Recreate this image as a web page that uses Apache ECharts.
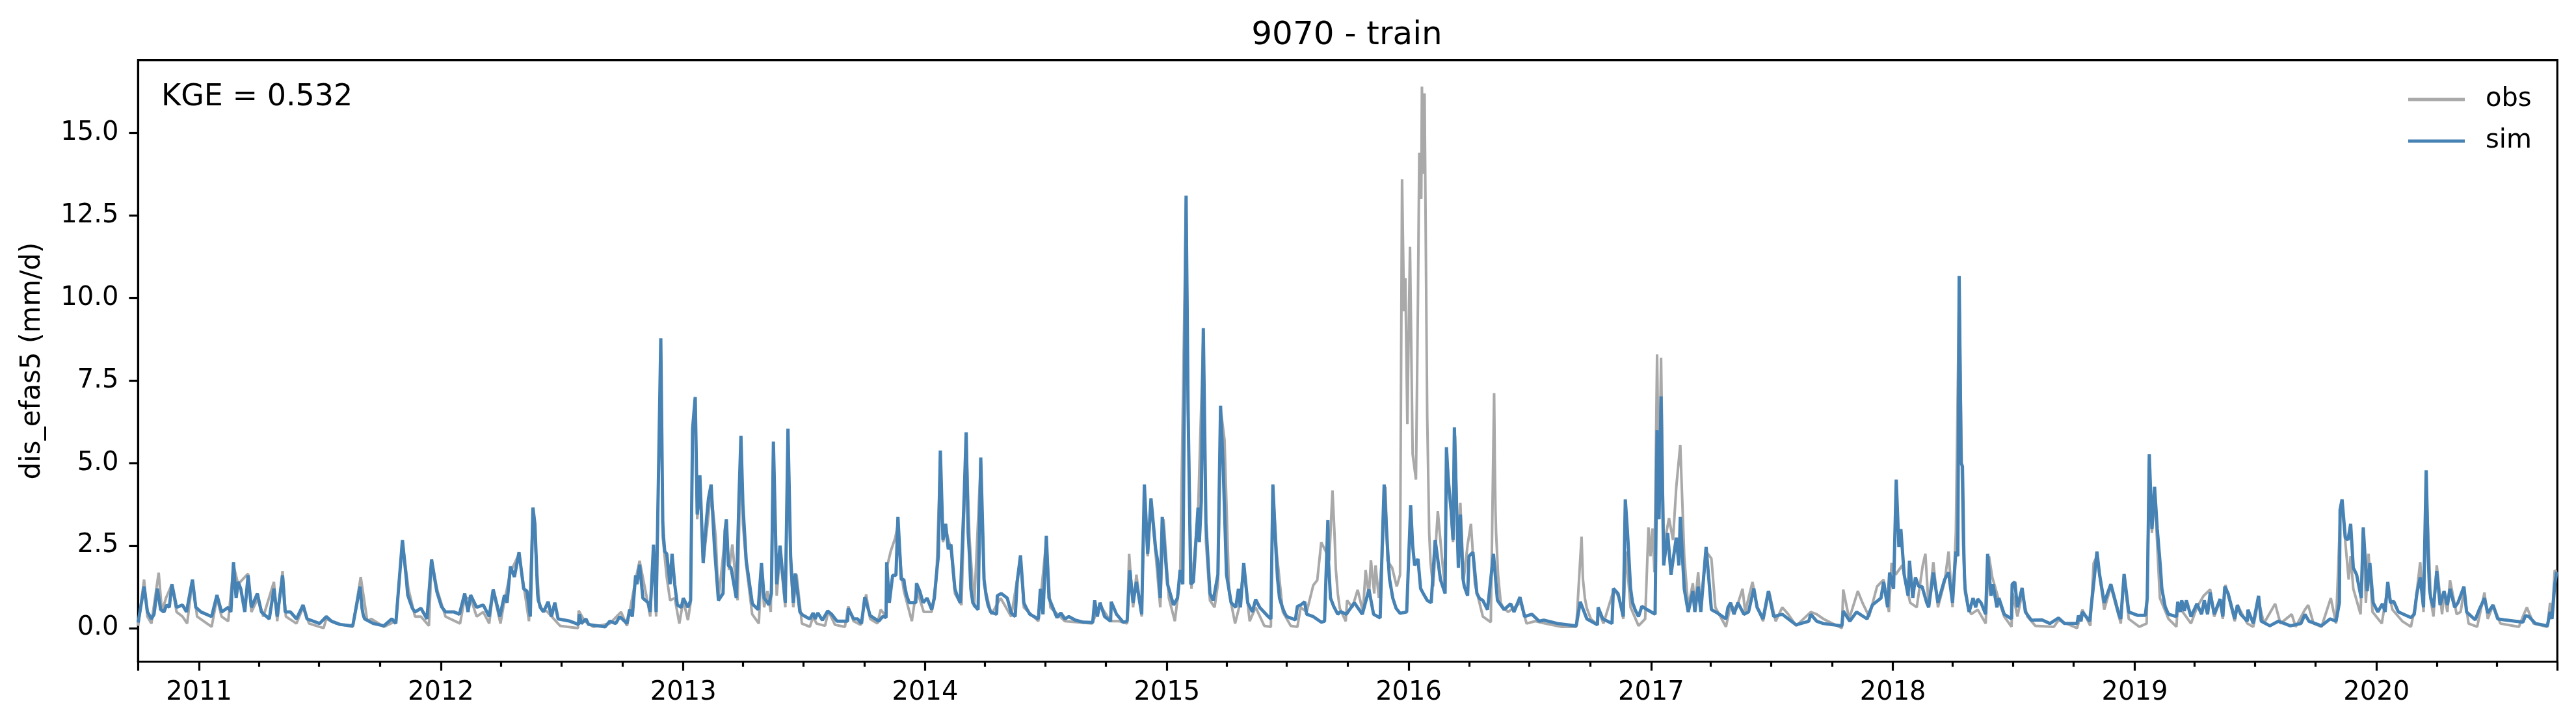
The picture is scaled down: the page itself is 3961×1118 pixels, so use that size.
<!DOCTYPE html>
<html><head><meta charset="utf-8">
<script src="https://cdn.jsdelivr.net/npm/echarts@6/dist/echarts.min.js"></script>
<style>html,body{margin:0;padding:0;background:#fff}#c{width:3961px;height:1118px}</style>
</head><body><div id="c"></div>
<script>
// [days since 2010-10-01, discharge mm/d]
const simA=[[0,.17],[9,1.26],[14,.5],[20,.28],[24,.42],[29,1.2],[34,.56],[39,.49],[43,.7],[47,.63],[51,1.33],[58,.63],[67,.7],[73,.49],[82,1.47],[87,.63],[95,.49],[111,.35],[119,1.0],[126,.49],[136,.63],[140,.49],[144,2.0],[148,.91],[151,1.4],[155,1.19],[161,.49],[166,1.6],[171,.63],[180,1.05],[186,.49],[198,.28],[205,1.2],[210,.35],[218,1.6],[222,.49],[230,.49],[239,.28],[249,.7],[255,.28],[274,.14],[284,.35],[292,.21],[305,.11],[324,.07],[335,1.26],[342,.28],[355,.14],[371,.07],[383,.28],[389,.14],[399,2.67],[405,1.47],[411,.77],[418,.49],[427,.6],[436,.28],[443,2.08],[449,1.33],[455,.84],[464,.49],[477,.49],[485,.42],[493,1.05],[498,.49],[502,1.0],[511,.63],[521,.7],[530,.35],[536,1.17],[546,.35],[553,1.0],[557,.77],[562,1.87],[568,1.55],[575,2.3],[582,1.19],[587,1.12],[592,.35],[596,3.65],[599,3.15],[603,1.05],[612,.49],[619,.8],[624,.35],[629,.77],[634,.28],[652,.21],[665,.11],[666,.42],[669,.14],[676,.28],[680,.11],[705,.04],[712,.21],[721,.14],[727,.35],[738,.14],[742,.56],[746,.35],[751,1.6],[753,1.33],[757,1.92],[762,.91],[770,.77]];
const simB=[[773,.49],[778,2.53],[782,.49],[789,8.78],[792,3.2],[795,2.32],[798,2.25],[803,1.33],[806,2.25],[810,1.33],[814,.7],[820,.63],[823,.91],[830,.63],[834,.84],[837,6.04],[841,7.0],[844,3.44],[848,4.63],[853,1.97],[858,3.3],[861,3.93],[865,4.35],[870,2.46],[876,.84],[883,1.05],[886,2.95],[888,3.3],[891,1.9],[895,1.83],[903,.91],[907,3.93],[910,5.83],[913,3.72],[918,2.04],[927,.77],[936,.56],[941,1.97],[945,.91],[952,.7],[956,1.05],[959,5.65],[964,1.33],[969,2.5],[977,.77],[981,6.04],[985,2.18],[989,.77],[992,1.66],[999,.49],[1014,.28],[1019,.46],[1022,.28],[1026,.46],[1033,.24],[1041,.52],[1047,.42],[1055,.21],[1071,.21],[1072,.6],[1080,.28],[1086,.28],[1092,.14],[1097,.94],[1105,.38],[1118,.21],[1124,.35],[1129,.32],[1130,2.0],[1134,.77],[1139,1.6],[1144,1.6],[1147,3.37],[1152,1.47],[1156,1.47],[1164,.77],[1174,.77],[1175,1.36],[1180,1.12],[1185,.77],[1191,.91],[1198,.56],[1202,.91],[1205,1.6],[1208,2.18],[1211,5.38],[1215,2.67],[1219,3.16],[1223,2.39],[1227,2.53],[1233,1.19],[1241,.77],[1247,4.0],[1250,5.93],[1253,2.88],[1260,.77],[1268,.56],[1272,5.17],[1277,1.47],[1287,.49],[1296,.42],[1297,.98],[1303,1.05],[1312,.91],[1318,.46],[1324,.35],[1327,1.4],[1332,2.2],[1337,.77],[1346,.42],[1359,.28],[1362,1.19],[1366,.42],[1371,2.8],[1375,.91],[1387,.32],[1393,.46],[1399,.28],[1405,.35],[1415,.24],[1427,.18],[1441,.17],[1444,.84],[1448,.35],[1452,.77],[1459,.35],[1468,.21],[1469,.8],[1477,.42],[1487,.18],[1493,.21],[1497,1.75],[1502,.77],[1507,1.4],[1515,.42],[1519,4.35],[1524,2.25],[1529,3.93],[1536,2.4],[1539,2.04],[1543,.91],[1546,3.37],[1554,1.33],[1563,.7],[1569,.91],[1573,1.76],[1577,1.33],[1582,13.1],[1585,6.67],[1589,1.33],[1593,1.4],[1600,3.65],[1602,2.6],[1605,3.86],[1608,9.09],[1612,3.16],[1618,1.05],[1623,.84],[1630,1.62],[1634,6.74],[1638,4.85],[1643,1.62],[1650,.77],[1657,.63],[1661,1.19],[1664,.63],[1669,1.97],[1675,.77],[1682,.49],[1687,.87],[1693,.63],[1706,.35],[1710,.28],[1713,4.35],[1717,2.6],[1723,.91],[1734,.35],[1747,.25],[1750,.66],[1755,.7]];
const simC=[[1761,.8],[1764,.42],[1774,.35],[1786,.18],[1791,.21],[1796,3.27],[1800,.91],[1811,.42],[1824,.42],[1836,.77],[1848,.42],[1858,1.17],[1865,.42],[1875,.31],[1878,2.46],[1881,4.35],[1886,2.46],[1894,.91],[1905,.45],[1915,.49],[1921,3.72],[1927,1.9],[1932,2.1],[1940,1.05],[1946,.84],[1952,.77],[1958,2.67],[1966,1.47],[1973,1.05],[1975,5.48],[1982,3.58],[1985,2.67],[1987,6.08],[1993,1.83],[1996,3.44],[2002,1.26],[2007,.98],[2009,2.18],[2015,2.3],[2021,1.05],[2030,.84],[2037,.56],[2046,2.25],[2052,.84],[2062,.56],[2072,.74],[2077,.49],[2086,.94],[2093,.35],[2104,.42],[2115,.21],[2122,.24],[2143,.14],[2171,.07],[2177,.8],[2187,.28],[2203,.1],[2204,.63],[2211,.28],[2225,.14],[2227,1.2],[2234,1.05],[2242,.35],[2245,3.9],[2250,2.32],[2256,.77],[2265,.35],[2270,.66],[2278,.56],[2290,.42],[2293,6.0],[2296,3.3],[2299,7.02],[2303,1.9],[2309,2.88],[2314,1.62],[2322,2.74],[2326,1.9],[2328,3.37],[2334,1.19],[2340,.49],[2347,1.12],[2350,.49],[2355,1.26],[2359,.49],[2367,2.46],[2375,.56],[2384,.46],[2397,.28],[2400,.63],[2404,.77],[2409,.42],[2415,.77],[2424,.42],[2431,.49],[2439,1.2],[2444,.63],[2453,.28],[2461,1.12],[2469,.35],[2482,.42],[2491,.28],[2503,.1],[2522,.21],[2525,.42],[2534,.21],[2544,.14],[2572,.07],[2574,.52],[2584,.21],[2594,.49],[2610,.28],[2618,.7],[2631,.91],[2635,1.4],[2641,.63],[2644,1.68],[2650,1.19],[2654,4.5],[2658,2.46],[2661,3.0],[2666,1.62],[2672,.98],[2674,2.04],[2679,.91],[2683,1.54],[2688,1.26],[2693,1.26],[2700,.77]];
const simD=[[2703,.63],[2710,1.68],[2717,.77],[2727,1.47],[2733,1.69],[2739,.77],[2744,2.32],[2747,2.18],[2749,10.67],[2752,5.0],[2754,4.9],[2758,1.19],[2764,.49],[2770,.91],[2774,.63],[2777,.88],[2782,.77],[2789,.42],[2792,2.25],[2797,.98],[2800,1.33],[2806,.63],[2809,.91],[2817,.42],[2828,.28],[2829,1.33],[2833,1.4],[2837,.63],[2844,1.22],[2849,.49],[2858,.24],[2874,.25],[2886,.14],[2899,.31],[2908,.14],[2927,.14],[2929,.38],[2933,.21],[2935,.49],[2946,.21],[2952,1.33],[2957,2.32],[2961,1.62],[2968,.77],[2978,1.33],[2990,.42],[2993,.28],[2998,1.64],[3005,.49],[3018,.39],[3030,.39],[3033,.91],[3036,5.27],[3040,3.0],[3044,4.28],[3048,3.02],[3055,1.19],[3065,.42],[3077,.35],[3079,.8],[3083,.49],[3085,.84],[3089,.52],[3092,.84],[3099,.35],[3108,.74],[3115,.42],[3119,.84],[3124,.42],[3128,1.08],[3134,.42],[3143,.88],[3147,.35],[3150,1.26],[3155,1.05],[3165,.28],[3169,.7],[3174,.42],[3184,.21],[3185,.56],[3193,.14],[3201,.98],[3205,.21],[3218,.07],[3231,.21],[3249,.07],[3265,.14],[3271,.42],[3277,.21],[3296,.07],[3309,.28],[3318,.21],[3323,.77],[3324,3.58],[3327,3.9],[3332,2.74],[3336,2.67],[3340,3.16],[3344,1.83],[3349,1.62],[3356,.91],[3359,3.05],[3365,1.12],[3369,1.97],[3374,.77],[3381,.49],[3388,.74],[3392,.49],[3396,1.4],[3400,.77],[3405,.81],[3412,.49],[3431,.32],[3436,.42],[3440,1.05],[3445,1.54],[3450,.63],[3454,4.78],[3459,1.19],[3465,.63],[3470,1.73],[3475,.7],[3481,1.12],[3486,.7],[3490,1.19],[3497,.63],[3502,.77],[3511,1.26],[3515,.49],[3528,.25],[3534,.56],[3539,.77],[3542,.91],[3547,.46],[3555,.7],[3562,.28],[3572,.25],[3600,.18],[3604,.38],[3609,.35],[3619,.14],[3637,.07],[3641,.49],[3644,.28],[3648,1.3],[3651,1.7]];
// points read along the recession limbs of the larger peaks
const simLimbs=[[146,1.4],[338,.6],[340,.38],[407,1.0],[414,.6],[451,1.1],[458,.65],[604,.85],[608,.6],[793,2.8],[846,3.9],[928,.72],[934,.6],[950,.78],[1003,.4],[1010,.32],[1157,1.3],[1160,1.0],[1237,.95],[1255,2.2],[1257,1.2],[1264,.65],[1280,1.0],[1283,.7],[1336,1.1],[1341,.6],[1720,1.5],[1727,.65],[1731,.45],[1797,2.0],[1805,.65],[1815,.5],[1889,1.5],[1899,.6],[1924,2.5],[1936,1.2],[1978,4.4],[2000,1.5],[2025,.9],[2248,3.0],[2253,1.2],[2260,.55],[2756,2.4],[2757,1.6],[2762,.7],[3053,1.8],[3060,.65],[3330,3.2],[3457,2.2],[3461,.9]];
const obsA=[[0,.07],[9,1.47],[14,.35],[20,.14],[31,1.68],[36,.49],[42,.91],[51,1.33],[58,.49],[67,.35],[74,.14],[82,1.45],[89,.35],[111,.04],[119,.91],[126,.35],[136,.21],[144,1.9],[151,1.33],[166,1.65],[171,.49],[181,.91],[189,.35],[205,1.4],[210,.21],[218,1.73],[223,.35],[239,.14],[249,.63],[258,.14],[280,0],[284,.28],[299,.14],[324,.04],[336,1.55],[346,.21],[352,.28],[371,.04],[389,.21],[391,.7],[399,2.6],[408,1.19],[418,.35],[427,.35],[439,.07],[443,2.04],[452,1.12],[464,.35],[486,.14],[493,.91],[502,.91],[511,.35],[521,.49],[530,.14],[536,1.12],[547,.14],[553,.84],[562,1.69],[575,2.25],[590,.21],[596,3.51],[606,.63],[618,.49],[637,.07],[664,0],[665,.53],[674,.21],[687,.04],[712,.14],[729,.49],[738,.07],[751,1.47],[757,2.04],[768,.91]];
const obsB=[[773,.35],[778,2.46],[782,.35],[789,8.5],[792,2.74],[798,1.54],[803,.84],[810,.91],[817,.14],[823,.84],[830,.24],[834,.77],[837,5.9],[841,6.8],[844,3.3],[848,4.4],[853,1.97],[858,2.88],[865,4.14],[872,2.74],[876,.84],[888,3.16],[892,1.76],[897,2.53],[905,.84],[910,5.7],[913,3.16],[918,1.9],[927,.42],[937,.14],[941,1.76],[945,.63],[950,1.12],[955,.49],[959,5.55],[964,.98],[969,2.25],[977,.63],[981,6.0],[985,1.9],[989,.63],[994,1.62],[1002,.14],[1014,.04],[1019,.35],[1024,.14],[1037,.07],[1042,.52],[1052,.1],[1067,.04],[1072,.66],[1080,.21],[1091,.1],[1099,1.02],[1105,.28],[1116,.14],[1121,.56],[1129,.35],[1131,1.9],[1136,2.32],[1143,2.74],[1147,3.16],[1152,1.69],[1156,1.12],[1168,.21],[1175,1.19],[1186,.49],[1198,.49],[1205,1.47],[1211,5.2],[1215,2.6],[1219,3.02],[1227,2.39],[1233,1.05],[1243,.7],[1250,5.75],[1255,2.74],[1262,.63],[1272,5.05],[1277,1.33],[1288,.42],[1302,.91],[1318,.35],[1332,2.11],[1337,.63],[1359,.21],[1371,2.67],[1377,.63],[1399,.21],[1440,.14],[1452,.7],[1468,.21],[1481,.21],[1493,.14],[1496,2.25],[1502,.63],[1507,1.62],[1515,.35],[1519,4.14],[1524,2.18],[1529,3.79],[1536,2.25],[1543,.63],[1548,3.3],[1556,.91],[1565,.21],[1573,1.54],[1582,13.0],[1585,6.5],[1590,1.19],[1600,3.44],[1608,8.9],[1612,2.6],[1618,.84],[1625,.63],[1630,1.33],[1635,6.5],[1640,5.7],[1647,1.05],[1656,.14],[1662,.63],[1669,1.83],[1678,.21],[1687,.63],[1700,.07],[1710,.04],[1713,4.2],[1719,2.25],[1728,.49],[1740,.07],[1750,.04],[1755,.63]];
const obsC=[[1764,.49],[1774,1.3],[1780,1.45],[1786,2.6],[1793,2.32],[1798,2.04],[1803,4.17],[1806,2.88],[1811,1.05],[1823,.21],[1825,.84],[1833,.63],[1841,1.16],[1849,.49],[1853,1.76],[1858,.98],[1861,2.06],[1866,1.05],[1868,1.9],[1873,.91],[1878,2.18],[1883,4.28],[1886,2.04],[1893,1.83],[1900,1.26],[1905,1.62],[1908,13.6],[1911,9.6],[1913,10.6],[1916,6.18],[1917,7.6],[1920,11.55],[1924,5.27],[1929,4.5],[1932,9.9],[1934,14.4],[1937,13.0],[1938,16.4],[1940,13.76],[1942,16.2],[1946,6.4],[1949,2.88],[1955,1.26],[1962,3.54],[1968,2.18],[1973,1.19],[1975,5.27],[1980,4.14],[1985,2.6],[1988,5.83],[1993,1.9],[1996,3.8],[2001,1.47],[2007,2.53],[2012,3.16],[2018,1.33],[2030,.35],[2042,.18],[2047,7.12],[2050,2.88],[2057,.77],[2068,.49],[2087,.77],[2096,.14],[2109,.21],[2124,.14],[2149,.04],[2171,.04],[2179,2.77],[2184,.91],[2193,.28],[2203,.1],[2204,.56],[2212,.14],[2228,1.19],[2236,.91],[2242,.28],[2246,2.32],[2253,.63],[2265,.07],[2275,.28],[2280,3.05],[2283,2.18],[2286,3.02],[2289,1.69],[2293,8.29],[2296,3.58],[2299,8.19],[2303,2.46],[2311,3.33],[2317,2.67],[2322,4.28],[2328,5.55],[2334,2.18],[2340,.63],[2347,1.36],[2350,.63],[2355,1.69],[2359,.63],[2367,2.32],[2375,2.11],[2381,.63],[2397,.04],[2404,.7],[2412,.56],[2422,1.19],[2426,.49],[2437,1.4],[2444,.63],[2453,.21],[2462,1.12],[2472,.21],[2482,.63],[2491,.42],[2503,.07],[2525,.49],[2534,.42],[2544,.28],[2572,0],[2574,1.17],[2583,.28],[2596,1.12],[2603,.77],[2613,.35],[2625,1.26],[2635,1.47],[2643,.49],[2647,1.97],[2653,1.62],[2663,1.9],[2675,.77],[2685,.63],[2694,1.9],[2698,2.25]];
const obsD=[[2703,.63],[2710,2.0],[2717,.63],[2727,1.4],[2733,2.32],[2739,.63],[2744,2.88],[2749,10.45],[2753,4.85],[2758,1.05],[2767,.42],[2777,.56],[2789,.14],[2794,2.18],[2799,1.54],[2810,.77],[2817,.35],[2828,.04],[2830,1.05],[2837,.35],[2844,1.05],[2852,.35],[2864,.07],[2892,.04],[2899,.24],[2927,0],[2935,.56],[2947,.07],[2952,1.97],[2957,2.18],[2968,.56],[2978,1.26],[2993,.14],[2998,1.62],[3005,.28],[3021,.04],[3032,.14],[3036,5.13],[3040,2.88],[3044,4.14],[3052,.91],[3065,.28],[3077,.04],[3079,.7],[3099,.14],[3108,.63],[3118,.98],[3128,1.17],[3134,.35],[3143,.84],[3147,.28],[3151,1.31],[3165,.21],[3169,.7],[3184,.14],[3193,.04],[3201,.84],[3209,.14],[3226,.74],[3234,.14],[3251,.42],[3257,.04],[3271,.56],[3276,.7],[3284,.14],[3296,.04],[3310,.91],[3318,.14],[3324,3.3],[3327,3.72],[3337,1.47],[3340,2.18],[3344,1.19],[3355,.42],[3359,2.95],[3363,.77],[3367,2.25],[3373,.49],[3387,.14],[3396,1.26],[3403,.56],[3418,.21],[3431,.04],[3437,.63],[3445,2.0],[3450,.49],[3454,4.43],[3461,.84],[3465,.35],[3470,1.9],[3478,.42],[3481,1.05],[3486,.49],[3490,1.45],[3500,.42],[3506,.49],[3511,1.12],[3518,.14],[3531,.04],[3542,1.08],[3547,.28],[3555,.7],[3566,.14],[3594,.04],[3600,.35],[3606,.63],[3616,.14],[3637,.04],[3641,.77],[3644,.28],[3648,1.75],[3651,1.7]];
const obsLimbs=[[1808,1.8],[1814,.6],[1951,2.0],[1953,1.6],[2048,5.0],[2049,3.6],[2053,1.6],[2060,.65],[2181,1.5],[2187,.6],[2755,2.5],[2762,.7]];
const yearLabels=[2011,2012,2013,2014,2015,2016,2017,2018,2019,2020];
const yTicks=[0,2.5,5,7.5,10,12.5,15];

const DAY=86400000, START=Date.UTC(2010,9,1);
const toDay=(y,m)=>Math.round((Date.UTC(y,m,1)-START)/DAY);
const END_DAY=3652;
const byDay=(a,b)=>a[0]-b[0];
const simData=[].concat(simA,simB,simC,simD,simLimbs).sort(byDay);
const obsData=[].concat(obsA,obsB,obsC,obsD,obsLimbs).sort(byDay);
const yearTicks=yearLabels.map(y=>toDay(y,0));
const quarterTicks=[];
for(let y=2010;y<=2020;y++)for(const m of [3,6,9]){const d=toDay(y,m);if(d>0&&d<END_DAY)quarterTicks.push(d);}
const yearOfDay=d=>new Date(START+d*DAY).getUTCFullYear();
const black='#000';
const chart=echarts.init(document.getElementById('c'),null,{renderer:'canvas',width:3961,height:1118});
const fontFamily='"DejaVu Sans"';
chart.setOption({
  animation:false,
  textStyle:{fontFamily},
  title:[
    {text:'9070 - train',left:2066,top:25,textAlign:'center',textStyle:{fontSize:50,fontWeight:'normal',color:black,fontFamily}},
    {text:'KGE = 0.532',left:243,top:122,textStyle:{fontSize:46,fontWeight:'normal',color:black,fontFamily}}
  ],
  legend:{show:true,orient:'vertical',left:3703,top:133,padding:0,itemWidth:87,itemHeight:5,itemGap:24,
    icon:'rect',selectedMode:false,
    data:[{name:'obs',itemStyle:{color:'#a9a9a9'}},{name:'sim',itemStyle:{color:'#4682b4'}}],
    textStyle:{fontSize:40,color:black,fontFamily,padding:[0,0,0,27],lineHeight:40}},
  grid:{left:212.4,right:3961-3932.3,top:92.7,bottom:1118-1017.5,show:true,borderColor:black,borderWidth:3.2,backgroundColor:'#fff'},
  xAxis:[
    {type:'value',min:0,max:END_DAY,splitLine:{show:false},
      axisLine:{show:true,onZero:false,lineStyle:{color:black,width:3.2}},
      axisTick:{show:true,length:14,lineStyle:{color:black,width:3.2},customValues:[0].concat(yearTicks,[END_DAY])},
      axisLabel:{show:true,fontSize:40,color:black,fontFamily,margin:28,customValues:yearTicks,hideOverlap:false,
        formatter:v=>String(yearOfDay(v))}},
    {type:'value',min:0,max:END_DAY,position:'bottom',splitLine:{show:false},
      axisLine:{show:false,onZero:false},
      axisTick:{show:true,length:8,lineStyle:{color:black,width:3.2},customValues:quarterTicks},
      axisLabel:{show:false}}
  ],
  yAxis:{type:'value',min:-1.015,max:17.2,splitLine:{show:false},
    name:'dis_efas5 (mm/d)',nameLocation:'middle',nameGap:141,nameTextStyle:{fontSize:42,color:black,fontFamily},
    axisLine:{show:true,onZero:false,lineStyle:{color:black,width:3.2}},
    axisTick:{show:true,length:14,lineStyle:{color:black,width:3.2},customValues:yTicks},
    axisLabel:{fontSize:40,color:black,fontFamily,margin:30,padding:[8,0,0,0],customValues:yTicks,formatter:v=>v.toFixed(1)}},
  series:[
    {name:'obs',type:'line',data:obsData,showSymbol:false,symbol:'none',silent:true,
      lineStyle:{color:'#a9a9a9',width:4},itemStyle:{color:'#a9a9a9'},z:2},
    {name:'sim',type:'line',data:simData,showSymbol:false,symbol:'none',silent:true,
      lineStyle:{color:'#4682b4',width:5},itemStyle:{color:'#4682b4'},z:3}
  ]
});
</script></body></html>
